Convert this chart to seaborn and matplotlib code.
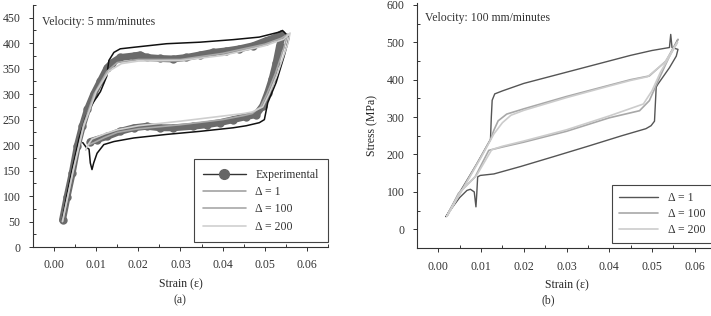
import numpy as np
import pandas as pd
import matplotlib
matplotlib.use("Agg")
import matplotlib.pyplot as plt
from matplotlib.lines import Line2D
from matplotlib.ticker import MultipleLocator, FormatStrFormatter
import seaborn as sns

# --- data (strain, stress in MPa) ---
# (a) velocity 5 mm/minutes
exp_a_strain = [0.0020, 0.0031, 0.0043, 0.0055, 0.0067, 0.0079, 0.0094, 0.0110, 0.0126, 0.0138,
                0.0157, 0.0189, 0.0204, 0.0220, 0.0252, 0.0283, 0.0314, 0.0346, 0.0377, 0.0409,
                0.0440, 0.0472, 0.0503, 0.0527, 0.0539, 0.0542, 0.0535, 0.0527, 0.0517, 0.0507,
                0.0495, 0.0480, 0.0456, 0.0425, 0.0393, 0.0362, 0.0330, 0.0283, 0.0252, 0.0220,
                0.0189, 0.0157, 0.0126, 0.0102, 0.0086]
exp_a_stress = [53, 99, 145, 198, 237, 270, 300, 326, 352, 362,
                372, 375, 377, 372, 370, 369, 372, 377, 382, 385,
                389, 395, 405, 412, 418, 415, 395, 362, 329, 303,
                277, 260, 256, 250, 244, 240, 237, 234, 234, 237,
                234, 227, 217, 211, 207]

d1_a_strain = [0.0020, 0.0030, 0.0045, 0.0060, 0.0075, 0.0090, 0.0110, 0.0125, 0.0130, 0.0142,
               0.0157, 0.0189, 0.0267, 0.0346, 0.0425, 0.0487, 0.0535, 0.0542, 0.0558, 0.0546,
               0.0527, 0.0507, 0.0499, 0.0487, 0.0456, 0.0425, 0.0346, 0.0267, 0.0189, 0.0142,
               0.0118, 0.0102, 0.0094, 0.0090, 0.0086, 0.0083, 0.0076, 0.0068]
d1_a_stress = [55, 100, 160, 215, 255, 280, 305, 335, 366, 382,
               389, 392, 399, 402, 407, 412, 422, 425, 412, 375,
               323, 283, 250, 244, 238, 234, 227, 221, 214, 207,
               201, 184, 165, 152, 165, 192, 196, 205]

d100_a_strain = [0.0020, 0.0045, 0.0070, 0.0095, 0.0126, 0.0150, 0.0200, 0.0300, 0.0400, 0.0500,
                 0.0540, 0.0555, 0.0545, 0.0525, 0.0505, 0.0490, 0.0470, 0.0450, 0.0400, 0.0300,
                 0.0200, 0.0150, 0.0120, 0.0095, 0.0080]
d100_a_stress = [50, 150, 240, 300, 345, 362, 368, 368, 380, 398,
                 410, 418, 390, 340, 300, 275, 262, 258, 250, 240,
                 232, 225, 215, 205, 200]

d200_a_strain = [0.0020, 0.0045, 0.0070, 0.0100, 0.0130, 0.0160, 0.0200, 0.0300, 0.0400, 0.0500,
                 0.0545, 0.0560, 0.0555, 0.0530, 0.0510, 0.0495, 0.0470, 0.0450, 0.0400, 0.0300,
                 0.0200, 0.0150, 0.0120, 0.0090, 0.0080, 0.0075]
d200_a_stress = [50, 148, 236, 305, 345, 360, 365, 366, 376, 395,
                 408, 420, 400, 340, 300, 275, 265, 262, 257, 247,
                 238, 230, 222, 212, 200, 190]

# (b) velocity 100 mm/minutes
d1_b_strain = [0.0018, 0.0050, 0.0090, 0.0122, 0.0124, 0.0126, 0.0132, 0.0150, 0.0200, 0.0300,
               0.0400, 0.0450, 0.0500, 0.0541, 0.0544, 0.0547, 0.0561, 0.0557, 0.0541, 0.0514,
               0.0510, 0.0506, 0.0498, 0.0486, 0.0429, 0.0350, 0.0272, 0.0193, 0.0130, 0.0098,
               0.0092, 0.0090, 0.0088, 0.0084, 0.0075, 0.0067, 0.0050, 0.0035, 0.0018]
d1_b_stress = [34, 99, 175, 240, 300, 345, 362, 370, 390, 420,
               450, 465, 478, 486, 521, 486, 481, 463, 432, 388,
               380, 289, 277, 269, 250, 222, 195, 168, 148, 144,
               140, 96, 60, 100, 107, 104, 85, 62, 34]

d100_b_strain = [0.0020, 0.0060, 0.0100, 0.0122, 0.0130, 0.0140, 0.0160, 0.0200, 0.0300, 0.0400,
                 0.0450, 0.0494, 0.0533, 0.0561, 0.0540, 0.0518, 0.0494, 0.0471, 0.0400, 0.0300,
                 0.0200, 0.0150, 0.0118, 0.0086, 0.0047, 0.0020]
d100_b_stress = [35, 115, 195, 240, 265, 290, 308, 322, 355, 385,
                 400, 410, 450, 508, 460, 406, 344, 317, 298, 262,
                 233, 220, 211, 140, 96, 35]

d200_b_strain = [0.0020, 0.0060, 0.0100, 0.0122, 0.0130, 0.0150, 0.0170, 0.0200, 0.0300, 0.0400,
                 0.0450, 0.0490, 0.0530, 0.0560, 0.0545, 0.0520, 0.0500, 0.0480, 0.0400, 0.0300,
                 0.0200, 0.0150, 0.0125, 0.0090, 0.0050, 0.0020]
d200_b_stress = [35, 113, 192, 238, 255, 285, 305, 318, 352, 383,
                 398, 408, 446, 500, 470, 420, 370, 335, 303, 266,
                 236, 222, 213, 145, 98, 35]

labels = ['Δ = 1', 'Δ = 100', 'Δ = 200']

# --- style ---
sns.set_style("ticks")
plt.rcParams['font.family'] = ['Liberation Serif', 'DejaVu Serif']
plt.rcParams['font.size'] = 8.5
plt.rcParams['axes.edgecolor'] = '#333333'
plt.rcParams['xtick.color'] = '#333333'
plt.rcParams['ytick.color'] = '#333333'
plt.rcParams['text.color'] = '#333333'

fig = plt.figure(figsize=(7.11, 3.16), dpi=100)
ax_a = fig.add_axes([33 / 711, 69 / 316, 295 / 711, 242 / 316])
ax_b = fig.add_axes([417 / 711, 68 / 316, 299 / 711, 245 / 316])


def draw(ax, x, y, **kw):
    df = pd.DataFrame({'strain': x, 'stress': y})
    sns.lineplot(data=df, x='strain', y='stress', sort=False, estimator=None,
                 ax=ax, legend=False, **kw)


# --- (a) ---
draw(ax_a, exp_a_strain, exp_a_stress, color='#6b6b6b', lw=5,
     marker='o', markersize=6, markeredgewidth=0)
draw(ax_a, d1_a_strain, d1_a_stress, color='#111111', lw=1.1)
draw(ax_a, d100_a_strain, d100_a_stress, color='#a8a8a8', lw=1.2)
draw(ax_a, d200_a_strain, d200_a_stress, color='#cfcfcf', lw=1.2)

# --- (b) ---
draw(ax_b, d1_b_strain, d1_b_stress, color='#555555', lw=1.0)
draw(ax_b, d100_b_strain, d100_b_stress, color='#a8a8a8', lw=1.2)
draw(ax_b, d200_b_strain, d200_b_stress, color='#cccccc', lw=1.2)

for ax in (ax_a, ax_b):
    sns.despine(ax=ax)
    ax.set_xlim(-0.005, 0.065)
    ax.xaxis.set_major_locator(MultipleLocator(0.01))
    ax.xaxis.set_minor_locator(MultipleLocator(0.005))
    ax.xaxis.set_major_formatter(FormatStrFormatter('%.2f'))
    ax.tick_params(axis='x', which='major', direction='out', length=3, width=0.7)
    ax.tick_params(axis='x', which='minor', direction='in', length=2.5, width=0.7)
    ax.tick_params(axis='y', which='major', direction='out', length=3, width=0.7)
    ax.tick_params(axis='y', which='minor', direction='in', length=2.5, width=0.7)
    ax.tick_params(labelsize=8.5, pad=6)
    ax.set_xlabel('Strain (ε)', fontsize=8.5, labelpad=5)
    for s in ax.spines.values():
        s.set_linewidth(0.8)

ax_a.set_ylim(0, 475)
ax_a.yaxis.set_major_locator(MultipleLocator(50))
ax_a.yaxis.set_minor_locator(MultipleLocator(25))
ax_a.set_ylabel('')
ax_a.text(0.03, 0.93, 'Velocity: 5 mm/minutes', transform=ax_a.transAxes,
          fontsize=8.5, va='center')

ax_b.set_ylim(-50, 605)
ax_b.yaxis.set_major_locator(MultipleLocator(100))
ax_b.yaxis.set_minor_locator(MultipleLocator(50))
ax_b.set_ylabel('Stress (MPa)', fontsize=8.5, labelpad=6)
ax_b.text(0.027, 0.94, 'Velocity: 100 mm/minutes', transform=ax_b.transAxes,
          fontsize=8.5, va='center')

# legends
handles_a = [Line2D([], [], color='#333333', lw=1, marker='o', markersize=7,
                    markerfacecolor='#666666', markeredgecolor='#666666'),
             Line2D([], [], color='#9a9a9a', lw=1.1),
             Line2D([], [], color='#a8a8a8', lw=1.2),
             Line2D([], [], color='#d0d0d0', lw=1.2)]
handles_b = [Line2D([], [], color='#555555', lw=1.0),
             Line2D([], [], color='#a8a8a8', lw=1.2),
             Line2D([], [], color='#cccccc', lw=1.2)]

leg_kw = dict(loc='lower right', fontsize=8.5, frameon=True, fancybox=False,
              edgecolor='#444444', framealpha=1, borderaxespad=0, numpoints=1)
leg = ax_a.legend(handles_a, ['Experimental'] + labels, bbox_to_anchor=(1.0, 0.02),
                  handlelength=3.6, borderpad=0.8, labelspacing=0.45, **leg_kw)
leg.get_frame().set_linewidth(0.8)
leg = ax_b.legend(handles_b, labels, bbox_to_anchor=(0.987, 0.02),
                  handlelength=3.3, borderpad=0.6, labelspacing=0.35, **leg_kw)
leg.get_frame().set_linewidth(0.8)

fig.text(180 / 711, 1 - 300 / 316, '(a)', ha='center', va='center', fontsize=8.5)
fig.text(548 / 711, 1 - 300 / 316, '(b)', ha='center', va='center', fontsize=8.5)

fig.savefig('out.png', dpi=100, facecolor='white')
